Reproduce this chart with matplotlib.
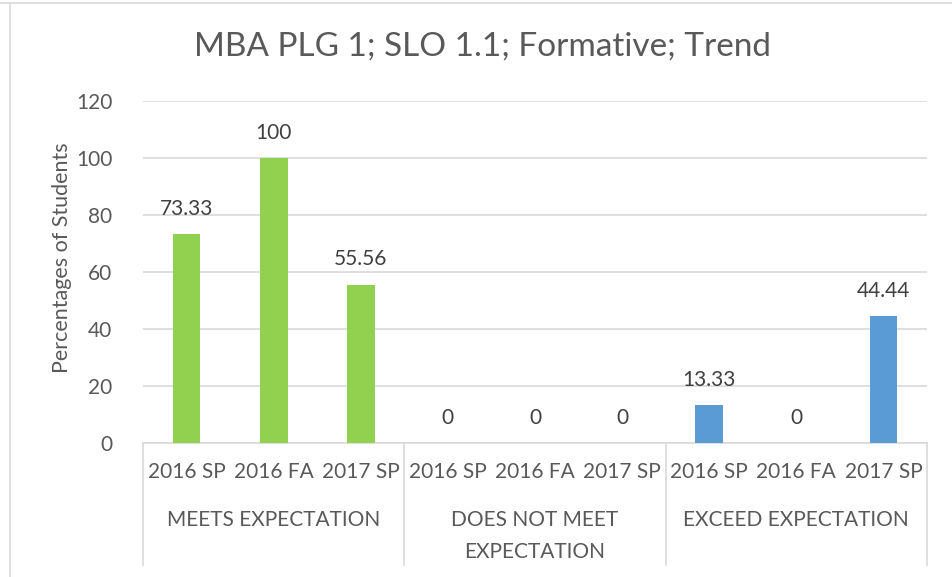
import matplotlib
matplotlib.use("Agg")
import matplotlib.pyplot as plt
import matplotlib.transforms as mtransforms
from matplotlib.lines import Line2D

plt.rcParams['font.family'] = ['Lato', 'DejaVu Sans']

title = "MBA PLG 1; SLO 1.1; Formative; Trend"
y_label = "Percentages of Students"
groups = ["MEETS EXPECTATION", "DOES NOT MEET\nEXPECTATION", "EXCEED EXPECTATION"]
terms = ["2016 SP", "2016 FA", "2017 SP"]
meets = [73.33, 100, 55.56]
not_meet = [0, 0, 0]
exceed = [13.33, 0, 44.44]
value_labels = ["73.33", "100", "55.56", "0", "0", "0", "13.33", "0", "44.44"]
y_ticks = [0, 20, 40, 60, 80, 100, 120]

green = "#92D050"
blue = "#5B9BD5"
grid_c = "#D9D9D9"
text_c = "#595959"

W, H = 953, 577
fig = plt.figure(figsize=(W / 100, H / 100), dpi=100)

# axes placed in pixel terms: x 143..927, y(0)=443, y(120)=101
x0, x1 = 143, 927
y_zero, y_top = 443, 101
ax = fig.add_axes([x0 / W, (H - y_zero) / H, (x1 - x0) / W, (y_zero - y_top) / H])

values = meets + not_meet + exceed
colors = [green] * 6 + [blue] * 3
xs = list(range(len(values)))
bars = ax.bar(xs, values, width=0.32, color=colors, zorder=3)

ax.set_xlim(-0.5, len(values) - 0.5)
ax.set_ylim(0, 120)
ax.set_yticks(y_ticks)
ax.set_yticklabels([str(t) for t in y_ticks], fontsize=15, color=text_c)
ax.tick_params(axis='y', length=0, pad=22)
ax.set_xticks([])
for s in ["top", "right", "left"]:
    ax.spines[s].set_visible(False)
ax.spines["bottom"].set_color(grid_c)
ax.spines["bottom"].set_linewidth(1.2)
ax.yaxis.grid(True, color=grid_c, linewidth=1.2, zorder=0)
ax.set_axisbelow(True)

ax.set_ylabel(y_label, fontsize=15.5, color=text_c)
ax.yaxis.set_label_coords((72 - x0) / (x1 - x0), (y_zero - 258) / (y_zero - y_top))

# value labels above each bar
for b, lab in zip(bars, value_labels):
    ax.annotate(lab, (b.get_x() + b.get_width() / 2, b.get_height()),
                xytext=(0, 11), textcoords="offset points",
                ha="center", va="bottom", fontsize=15, color="#404040")


def below(py):
    """Axes-fraction y for a pixel row below the zero line."""
    return (y_zero - py) / (y_zero - y_top)


# two-level category axis
trans = mtransforms.blended_transform_factory(ax.transData, ax.transAxes)
for i, x in enumerate(xs):
    ax.text(x, below(472), terms[i % 3], transform=trans,
            ha="center", va="center", fontsize=15, color=text_c, clip_on=False)
for g, name in enumerate(groups):
    ax.text(g * 3 + 1, below(510), name,
            transform=trans, ha="center", va="top", fontsize=15, color=text_c,
            linespacing=1.75, clip_on=False)
for g in range(len(groups) + 1):
    xb = g * 3 - 0.5
    ax.add_line(Line2D([xb, xb], [0, below(565)], transform=trans,
                       color=grid_c, linewidth=1.2, clip_on=False))

fig.suptitle(title, x=483 / W, y=1 - 47 / H, va="center", fontsize=24, color=text_c)

# chart frame (top and left edges)
fig.add_artist(Line2D([0, 1], [1 - 3 / H, 1 - 3 / H], transform=fig.transFigure,
                      color=grid_c, linewidth=1.2))
fig.add_artist(Line2D([10 / W, 10 / W], [0, 1 - 3 / H], transform=fig.transFigure,
                      color=grid_c, linewidth=1.2))

fig.savefig("out.png", dpi=100, facecolor="white")
